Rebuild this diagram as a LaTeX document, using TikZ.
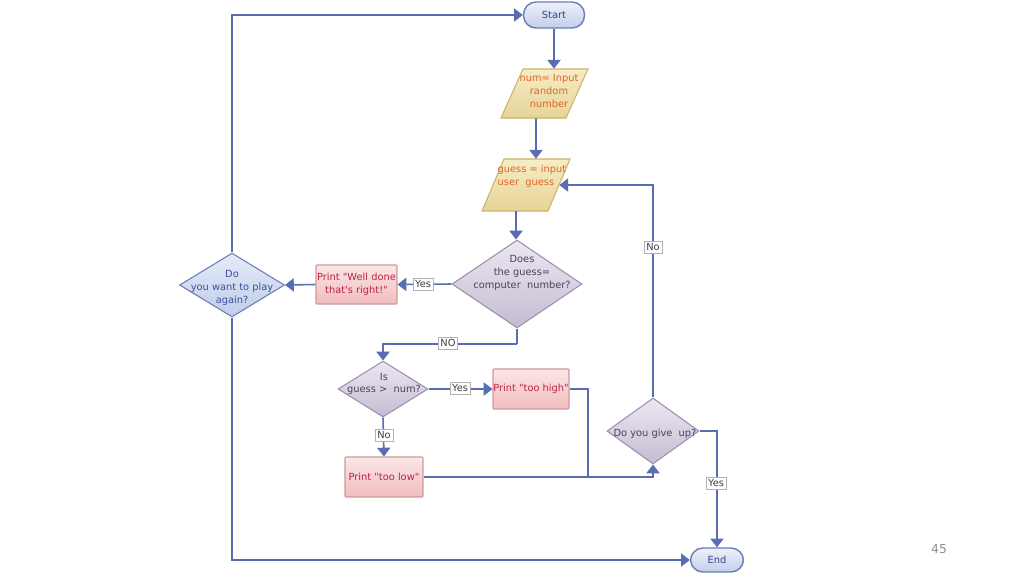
\documentclass[tikz,border=0pt]{standalone}
\usepackage{fontspec}
\setmainfont{DejaVu Sans}
\usetikzlibrary{shapes.geometric,arrows.meta,calc}
\definecolor{ln}{HTML}{5A6DB0}
\definecolor{seA}{HTML}{EEF1FA}
\definecolor{seB}{HTML}{C3CEEA}
\definecolor{seD}{HTML}{6A7CB8}
\definecolor{seT}{HTML}{33448A}
\definecolor{paA}{HTML}{F6EDC6}
\definecolor{paB}{HTML}{E6D497}
\definecolor{paD}{HTML}{C9B468}
\definecolor{paT}{HTML}{E0642A}
\definecolor{pbA}{HTML}{FCE6E6}
\definecolor{pbB}{HTML}{F0BDBD}
\definecolor{pbD}{HTML}{D09A9A}
\definecolor{pbT}{HTML}{C0204A}
\definecolor{diA}{HTML}{ECE7F1}
\definecolor{diB}{HTML}{C6BBD2}
\definecolor{diD}{HTML}{9C8FAE}
\definecolor{diT}{HTML}{4A4358}
\definecolor{dbA}{HTML}{E6EBF7}
\definecolor{dbB}{HTML}{BFCCEA}
\definecolor{dbT}{HTML}{3A4FA0}
\begin{document}
\begin{tikzpicture}[x=0.02cm,y=-0.02cm,
  font=\fontsize{5.6}{7.3}\selectfont,
  se/.style={rectangle, rounded corners=0.25cm, draw=seD, line width=0.8pt,
     top color=seA, bottom color=seB, text=seT, inner sep=0pt},
  para/.style={draw=paD, line width=0.6pt, top color=paA, bottom color=paB},
  inv/.style={rectangle, inner sep=0pt, draw=none},
  ptxt/.style={text=paT, inner sep=0pt},
  pbox/.style={rectangle, draw=pbD, line width=0.6pt, top color=pbA, bottom color=pbB,
     text=pbT, inner sep=0pt, rounded corners=0.5pt},
  dia/.style={diamond, draw=diD, line width=0.6pt, top color=diA, bottom color=diB, inner sep=0pt},
  diab/.style={diamond, draw=seD, line width=0.6pt, top color=dbA, bottom color=dbB, inner sep=0pt},
  dtxt/.style={text=diT, inner sep=0pt, align=center},
  lab/.style={rectangle, fill=white, draw=black!30, line width=0.3pt, inner sep=1.2pt, text=black!75},
  arr/.style={draw=ln, line width=0.9pt, -{Triangle[width=7.5pt,length=5pt]}},
  ln/.style={draw=ln, line width=0.9pt}
]
\useasboundingbox (0,0) rectangle (1024,576);

% Start / End
\node[se, minimum width=1.22cm, minimum height=0.52cm] (start) at (554,15) {Start};
\node[se, minimum width=1.06cm, minimum height=0.48cm] (end) at (717,560) {End};

% parallelograms
\draw[para] (501,118) -- (523,69) -- (588,69) -- (566,118) -- cycle;
\node[inv, minimum width=1.3cm, minimum height=0.98cm] (num) at (544.5,93.5) {};
\node[ptxt, align=center] (numt) at (549,91) {num= Input\\random\\number};

\draw[para] (482,211) -- (504,159) -- (570,159) -- (548,211) -- cycle;
\node[inv, minimum width=1.32cm, minimum height=1.04cm] (guess) at (526,185) {};
\node[ptxt, align=left] (guesst) at (532,176) {guess = input\\user\ \ guess};

% diamonds
\node[dia, minimum width=2.6cm, minimum height=1.76cm] (does) at (517,284) {};
\node[dtxt] (doest) at (522,273) {Does\\the guess=\\computer\ \ number?};

\node[diab, minimum width=2.1cm, minimum height=1.28cm] (again) at (232,285) {};
\node[dtxt, text=dbT] (againt) at (232,288) {Do\\you want to play\\again?};

\node[dia, minimum width=1.8cm, minimum height=1.12cm] (is) at (383,389) {};
\node[dtxt] (ist) at (384,384) {Is\\guess >\ \ num?};

\node[dia, minimum width=1.84cm, minimum height=1.32cm] (giveup) at (653,431) {};
\node[dtxt] (giveupt) at (655,434) {Do you give\ \ up?};

% print boxes
\node[pbox, minimum width=1.62cm, minimum height=0.78cm, align=center] (well) at (356.5,284.5) {Print \textquotedbl Well done\\that\textquotesingle s right!\textquotedbl};
\node[pbox, minimum width=1.52cm, minimum height=0.8cm] (high) at (531,389) {Print \textquotedbl too high\textquotedbl};
\node[pbox, minimum width=1.56cm, minimum height=0.8cm] (low) at (384,477) {Print \textquotedbl too low\textquotedbl};

% helper coordinates
\coordinate (k1) at (517,344);
\coordinate (j) at (588,477);

% connectors
\draw[arr] (start.south) -- (start.south |- num.north);
\draw[arr] ([xshift=-0.17cm]num.south) -- ([xshift=0.2cm]guess.north);
\draw[arr] ([xshift=-0.2cm]guess.south) -- ([xshift=-0.2cm]guess.south |- does.north);
\draw[arr] (does.west) -- (well.east);
\draw[arr] (well.west) -- (again.east);
\draw[arr] (again.north) |- (start.west);
\draw[arr] (again.south) |- (end.west);
\draw[ln] (does.south) -- (k1);
\draw[arr] (k1) -| (is.north);
\draw[arr] (is.east) -- (high.west);
\draw[arr] (is.south) -- (low.north);
\draw[ln] (high.east) -| (j);
\draw[arr] (low.east) -| (giveup.south);
\draw[arr] (giveup.north) |- (guess.east);
\draw[arr] (giveup.east) -| (end.north);

% labels
\node[lab] (l1) at (423,284) {Yes};
\node[lab] (l2) at (448,343) {NO};
\node[lab] (l3) at (460,388) {Yes};
\node[lab] (l4) at (384,435) {No};
\node[lab] (l5) at (653,247) {No};
\node[lab] (l6) at (716,483) {Yes};

% page number
\node[text=black!45, font=\fontsize{7}{8}\selectfont] (pg) at (939,549) {45};
\end{tikzpicture}
\end{document}
